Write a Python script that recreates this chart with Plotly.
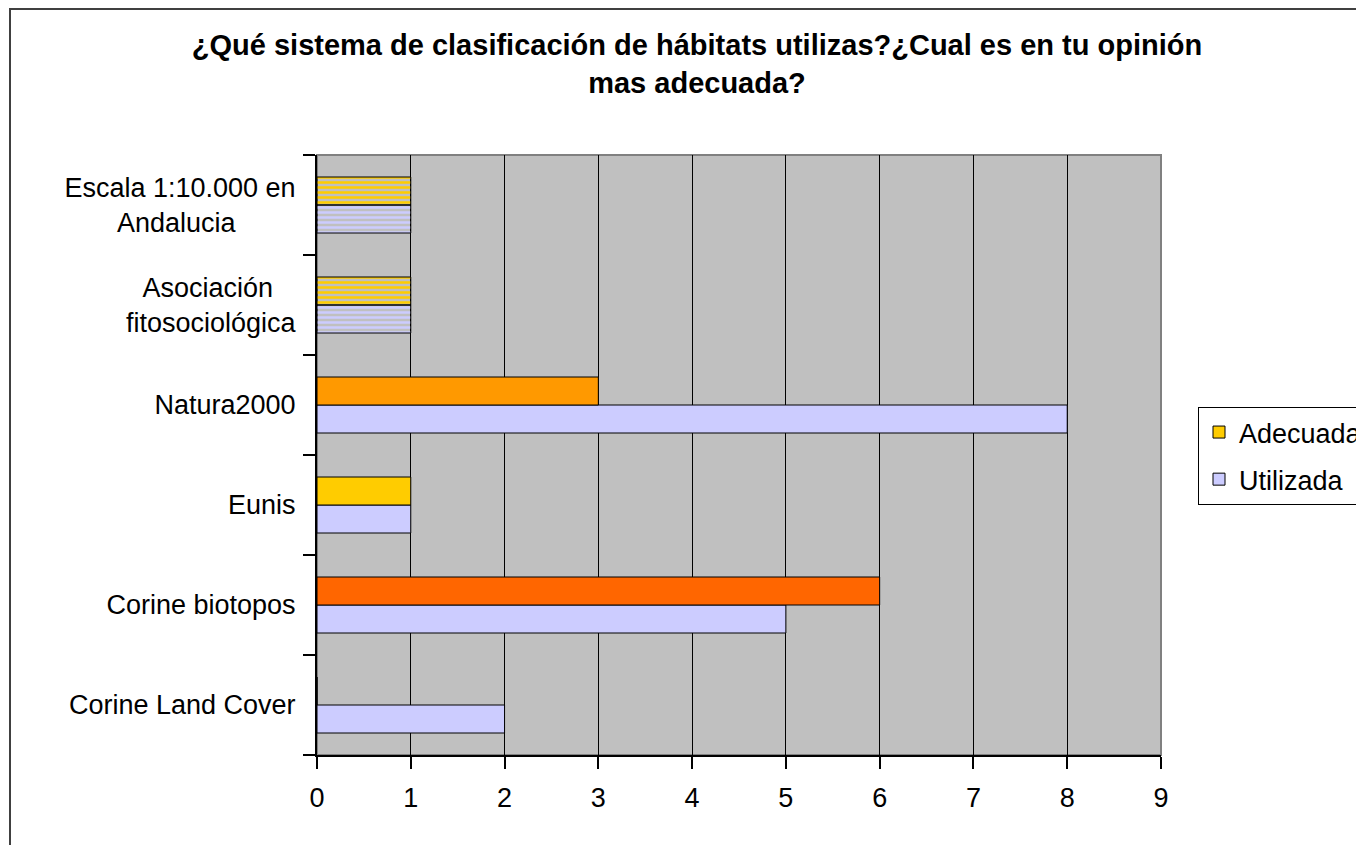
import plotly.graph_objects as go

NB = "\u00a0"
categories = ["Corine Land Cover", "Corine biotopos", "Eunis", "Natura2000",
              "Asociación" + NB * 3 + "<br>fitosociológica",
              "Escala 1:10.000 en<br>Andalucia" + NB * 8]
utilizada = [2, 5, 1, 8, 1, 1]
adecuada = [0, 6, 1, 3, 1, 1]
x_ticks = list(range(0, 10))

adecuada_colors = ["#FFCC00", "#FF6600", "#FFCC00", "#FF9900", "#FFCC00", "#FFCC00"]
utilizada_colors = ["#CCCCFF"] * 6
striped = ["", "", "", "", "-", "-"]

# page body has an 8px margin; work in screen pixels and convert
OFF = 8
W, H = 1420, 845
L = 317 - OFF
T = 155 - OFF
pw, ph = 844, 600
R = W - L - pw
B = H - T - ph

def px_x(p):
    return (p - OFF - L) / pw

def px_y(p):
    return (H - (p - OFF) - B) / ph

font = "Liberation Sans, Arial, sans-serif"

fig = go.Figure()
fig.add_trace(go.Bar(
    y=categories, x=utilizada, orientation="h", name="Utilizada",
    legendgroup="u", legendrank=2,
    marker=dict(color=utilizada_colors, line=dict(color="black", width=1),
                pattern=dict(shape=striped, fgcolor="white", bgcolor=utilizada_colors,
                             size=5, solidity=0.5, fillmode="replace")),
))
fig.add_trace(go.Bar(
    y=categories, x=adecuada, orientation="h", name="Adecuada",
    legendgroup="a", legendrank=1,
    marker=dict(color=adecuada_colors, line=dict(color="black", width=1),
                pattern=dict(shape=striped, fgcolor="white", bgcolor=adecuada_colors,
                             size=5, solidity=0.5, fillmode="replace")),
))

fig.update_layout(
    width=W, height=H,
    margin=dict(l=L, r=R, t=T, b=B),
    paper_bgcolor="white", plot_bgcolor="#C0C0C0",
    barmode="group", bargap=0.44, bargroupgap=0,
    font=dict(family=font, size=27, color="black"),
    title=dict(text="<b>¿Qué sistema de clasificación de hábitats utilizas?¿Cual es en tu opinión<br>mas adecuada?</b>",
               x=(697 - OFF) / W, xanchor="center", xref="container",
               y=1 - 47 / H, yanchor="top",
               font=dict(family=font, size=29, color="black")),
    showlegend=True,
    legend=dict(x=px_x(1198), xanchor="left", y=px_y(407), yanchor="top",
                traceorder="grouped", tracegroupgap=9,
                bgcolor="white", bordercolor="black", borderwidth=1,
                font=dict(family=font, size=27, color="black")),
    xaxis=dict(range=[0, 9], tickvals=x_ticks, showgrid=True, gridcolor="black", gridwidth=1,
               showline=True, linecolor="black", linewidth=2, ticks="outside", ticklen=12,
               tickcolor="black", tickwidth=2, zeroline=False, ticklabelstandoff=6),
    yaxis=dict(categoryorder="array", categoryarray=categories, showgrid=False,
               showline=True, linecolor="black", linewidth=2, ticks="outside", ticklen=12,
               tickcolor="black", tickwidth=2, tickson="boundaries", ticklabelstandoff=14,
               zeroline=False),
    shapes=[
        dict(type="rect", xref="paper", yref="paper", x0=0, x1=1, y0=0, y1=1,
             line=dict(color="#808080", width=2), fillcolor="rgba(0,0,0,0)", layer="below"),
        dict(type="rect", xref="paper", yref="paper", x0=px_x(10), x1=px_x(1440),
             y0=px_y(880), y1=px_y(OFF + 1), line=dict(color="#404040", width=2),
             fillcolor="rgba(0,0,0,0)"),
    ],
)

fig.write_html("out.html")
